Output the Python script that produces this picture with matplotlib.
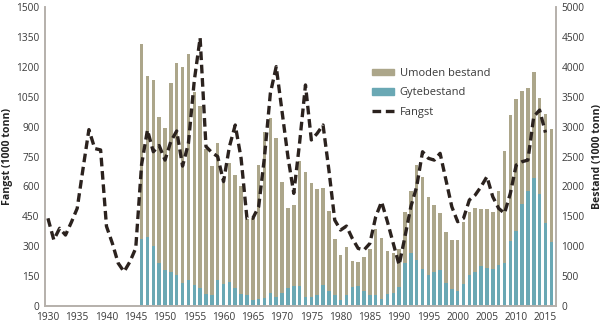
import numpy as np
import matplotlib.pyplot as plt
from matplotlib.patches import Patch
from matplotlib.lines import Line2D

plt.rcParams['font.family'] = ['Open Sans', 'DejaVu Sans']

# catch (left axis), 1930-2015
fangst_years = np.arange(1930, 2016)
fangst = [440, 332, 390, 356, 420, 490, 690, 885, 790, 783,
          400, 315, 215, 172, 222, 290, 710, 883, 774, 805,
          732, 826, 878, 702, 816, 1130, 1345, 800, 770, 750,
          624, 799, 908, 741, 440, 440, 498, 749, 1067, 1201,
          975, 749, 565, 820, 1109, 833, 866, 908, 682, 431,
          381, 401, 339, 289, 281, 314, 448, 523, 423, 314,
          206, 348, 498, 599, 774, 741, 732, 766, 632, 498,
          423, 440, 532, 557, 599, 649, 548, 490, 465, 565,
          707, 724, 732, 950, 983, 870]

# stock (right axis), 1946-2016
bestand_years = np.arange(1946, 2017)
totalbestand = [4381, 3846, 3785, 3161, 2971, 3729, 4058, 4002, 4214, 3579,
                3344, 2620, 2341, 2731, 2050, 2397, 2185, 2012, 1449, 1466,
                2358, 2915, 3150, 2815, 2068, 1633, 1695, 2425, 2246, 2057,
                1951, 1968, 1589, 1120, 853, 992, 758, 741, 814, 959,
                1293, 1137, 920, 892, 959, 1572, 1918, 2358, 2157, 1823,
                1695, 1550, 1237, 1104, 1104, 1405, 1572, 1639, 1616, 1616,
                1572, 1918, 2586, 3200, 3462, 3595, 3651, 3913, 3484, 3211,
                2954]
gytebestand = [1120, 1159, 1009, 725, 608, 569, 518, 390, 435, 346,
               307, 201, 178, 435, 368, 401, 307, 201, 178, 100,
               117, 128, 223, 145, 212, 307, 340, 334, 156, 156,
               178, 346, 245, 178, 100, 178, 312, 334, 245, 190,
               178, 123, 206, 223, 312, 713, 892, 775, 613, 524,
               569, 602, 390, 290, 245, 362, 513, 569, 663, 635,
               624, 680, 725, 1081, 1254, 1706, 1918, 2140, 1878, 1382,
               1076]
umoden = np.array(totalbestand) - np.array(gytebestand)

khaki = '#aca68a'
teal = '#6aa8b4'
linecol = '#2b221e'
spinecol = '#b5b0ab'
textcol = '#3a3a3a'

fig = plt.figure(figsize=(6.05, 3.26), dpi=100)
ax = fig.add_axes([0.0744, 0.0613, 0.8446, 0.9172])
axr = ax.twinx()

axr.bar(bestand_years, gytebestand, width=0.6, color=teal, linewidth=0)
axr.bar(bestand_years, umoden, width=0.6, bottom=gytebestand, color=khaki, linewidth=0)

ax.plot(fangst_years, fangst, color=linecol, lw=2.4, dashes=(2.6, 1.4),
        solid_capstyle='butt', dash_capstyle='butt')

ax.set_zorder(axr.get_zorder() + 1)
ax.patch.set_visible(False)

ax.set_xlim(1929.5, 2016.8)
ax.set_ylim(0, 1500)
axr.set_ylim(0, 5000)
ax.set_xticks(np.arange(1930, 2016, 5))
ax.set_yticks(np.arange(0, 1501, 150))
axr.set_yticks(np.arange(0, 5001, 500))

for a in (ax, axr):
    a.tick_params(length=0, labelsize=7.3, colors=textcol, pad=4)
    a.spines['top'].set_visible(False)
    for s in ('left', 'right', 'bottom'):
        a.spines[s].set_color(spinecol)
        a.spines[s].set_linewidth(1.2)

ax.set_ylabel('Fangst (1000 tonn)', fontsize=7.6, fontweight='bold', color='#222', labelpad=2)
axr.set_ylabel('Bestand (1000 tonn)', fontsize=7.6, fontweight='bold', color='#222', labelpad=5)

handles = [Patch(color=khaki, label='Umoden bestand'),
           Patch(color=teal, label='Gytebestand'),
           Line2D([], [], color=linecol, lw=2.4, dashes=(2.6, 1.4), label='Fangst')]
ax.legend(handles=handles, loc='upper left', bbox_to_anchor=(0.62, 0.83),
          frameon=False, fontsize=8, handlelength=2.0, handleheight=0.55,
          labelspacing=0.75, handletextpad=0.5, labelcolor=textcol)

fig.savefig('out.png', dpi=100)
